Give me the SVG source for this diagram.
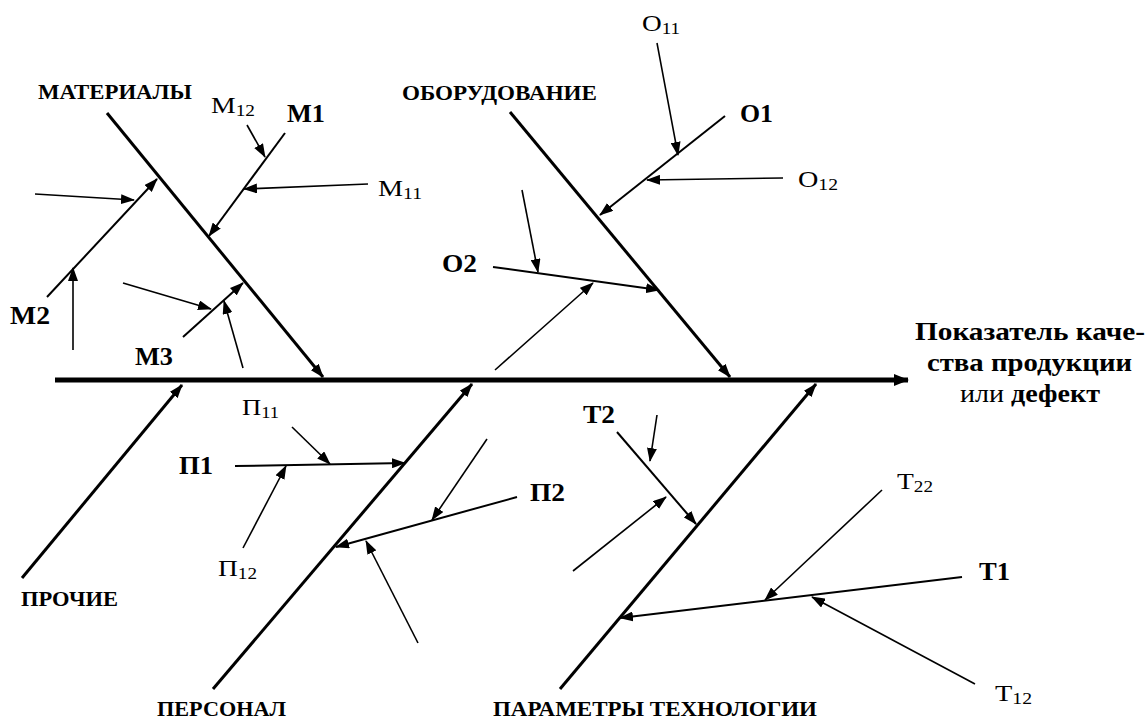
<svg xmlns="http://www.w3.org/2000/svg" width="1146" height="720" viewBox="0 0 1146 720">
<style>
.cat{font-family:"Liberation Serif","Times New Roman",serif;font-weight:bold;font-size:20px;fill:#000}
.lab{font-family:"Liberation Serif","Times New Roman",serif;font-weight:bold;font-size:26px;fill:#000}
.sub{font-family:"Liberation Serif","Times New Roman",serif;font-size:23px;fill:#000}
.sub .s{font-size:16px}
.res{font-family:"Liberation Serif","Times New Roman",serif;font-weight:bold;font-size:26px;fill:#000}
.spine{stroke:#000;stroke-width:5;fill:none}
.bone{stroke:#000;stroke-width:3;fill:none}
.twig{stroke:#000;stroke-width:2;fill:none}
.leaf{stroke:#000;stroke-width:1.6;fill:none}
</style>
<defs>
<marker id="ah" viewBox="0 0 14 10" refX="13" refY="5" markerWidth="14" markerHeight="10" markerUnits="userSpaceOnUse" orient="auto"><path d="M0,0 L14,5 L0,10 z" fill="#000"/></marker>
<marker id="ahBig" viewBox="0 0 15 12" refX="14" refY="6" markerWidth="15" markerHeight="12" markerUnits="userSpaceOnUse" orient="auto"><path d="M0,0 L15,6 L0,12 z" fill="#000"/></marker>
</defs>
<rect width="1146" height="720" fill="#fff"/>
<g id="connectors">
<line class="spine" x1="55" y1="380" x2="908" y2="380" marker-end="url(#ahBig)"/>
<line class="bone" x1="107" y1="113" x2="323" y2="377" marker-end="url(#ah)"/>
<line class="bone" x1="510" y1="112" x2="730" y2="377" marker-end="url(#ah)"/>
<line class="bone" x1="22" y1="578" x2="182" y2="385" marker-end="url(#ah)"/>
<line class="bone" x1="213" y1="689" x2="472" y2="384" marker-end="url(#ah)"/>
<line class="bone" x1="560" y1="689" x2="816" y2="384" marker-end="url(#ah)"/>
<line class="twig" x1="285" y1="133" x2="209" y2="236" marker-end="url(#ah)"/>
<line class="leaf" x1="247" y1="125" x2="265" y2="157" marker-end="url(#ah)"/>
<line class="leaf" x1="368" y1="184" x2="244" y2="189" marker-end="url(#ah)"/>
<line class="twig" x1="47" y1="297" x2="157" y2="179" marker-end="url(#ah)"/>
<line class="leaf" x1="35" y1="194" x2="134" y2="200" marker-end="url(#ah)"/>
<line class="leaf" x1="73" y1="350" x2="73" y2="268" marker-end="url(#ah)"/>
<line class="twig" x1="183" y1="337" x2="243" y2="283" marker-end="url(#ah)"/>
<line class="leaf" x1="123" y1="283" x2="211" y2="309" marker-end="url(#ah)"/>
<line class="leaf" x1="243" y1="368" x2="224" y2="301" marker-end="url(#ah)"/>
<line class="twig" x1="725" y1="116" x2="600" y2="215" marker-end="url(#ah)"/>
<line class="leaf" x1="657" y1="43" x2="678" y2="155" marker-end="url(#ah)"/>
<line class="leaf" x1="783" y1="178" x2="647" y2="180" marker-end="url(#ah)"/>
<line class="twig" x1="493" y1="267" x2="659" y2="290" marker-end="url(#ah)"/>
<line class="leaf" x1="522" y1="190" x2="538" y2="272" marker-end="url(#ah)"/>
<line class="leaf" x1="495" y1="370" x2="593" y2="283" marker-end="url(#ah)"/>
<line class="twig" x1="235" y1="466" x2="405" y2="463" marker-end="url(#ah)"/>
<line class="leaf" x1="292" y1="427" x2="330" y2="464" marker-end="url(#ah)"/>
<line class="leaf" x1="243" y1="548" x2="286" y2="466" marker-end="url(#ah)"/>
<line class="twig" x1="517" y1="497" x2="336" y2="547" marker-end="url(#ah)"/>
<line class="leaf" x1="487" y1="439" x2="432" y2="520" marker-end="url(#ah)"/>
<line class="leaf" x1="418" y1="643" x2="366" y2="541" marker-end="url(#ah)"/>
<line class="twig" x1="617" y1="432" x2="696" y2="524" marker-end="url(#ah)"/>
<line class="leaf" x1="657" y1="415" x2="650" y2="461" marker-end="url(#ah)"/>
<line class="leaf" x1="573" y1="571" x2="666" y2="497" marker-end="url(#ah)"/>
<line class="twig" x1="962" y1="577" x2="620" y2="618" marker-end="url(#ah)"/>
<line class="leaf" x1="882" y1="490" x2="765" y2="600" marker-end="url(#ah)"/>
<line class="leaf" x1="975" y1="684" x2="812" y2="597" marker-end="url(#ah)"/>
</g>
<g id="materials"><text class="cat" x="38" y="99" textLength="154" lengthAdjust="spacingAndGlyphs">МАТЕРИАЛЫ</text></g>
<g id="equipment"><text class="cat" x="402" y="100" textLength="195" lengthAdjust="spacingAndGlyphs">ОБОРУДОВАНИЕ</text></g>
<g id="other"><text class="cat" x="21" y="606" textLength="97" lengthAdjust="spacingAndGlyphs">ПРОЧИЕ</text></g>
<g id="personnel"><text class="cat" x="157" y="716" textLength="129" lengthAdjust="spacingAndGlyphs">ПЕРСОНАЛ</text></g>
<g id="technology"><text class="cat" x="493" y="716" textLength="324" lengthAdjust="spacingAndGlyphs">ПАРАМЕТРЫ ТЕХНОЛОГИИ</text></g>
<g id="result"><text class="res"><tspan x="915" y="340" textLength="230" lengthAdjust="spacingAndGlyphs">Показатель каче-</tspan><tspan x="927" y="371" textLength="205" lengthAdjust="spacingAndGlyphs">ства продукции</tspan><tspan x="960" y="402" textLength="140" lengthAdjust="spacingAndGlyphs"><tspan font-weight="normal">или</tspan> дефект</tspan></text></g>
<g id="M1"><text class="lab" x="287" y="122" textLength="38" lengthAdjust="spacingAndGlyphs">М1</text></g>
<g id="M11"><text class="sub" x="378" y="196" textLength="44" lengthAdjust="spacingAndGlyphs">М<tspan class="s" dy="3">11</tspan></text></g>
<g id="M12"><text class="sub" x="211" y="113" textLength="44" lengthAdjust="spacingAndGlyphs">М<tspan class="s" dy="3">12</tspan></text></g>
<g id="M2"><text class="lab" x="10" y="324" textLength="40" lengthAdjust="spacingAndGlyphs">М2</text></g>
<g id="M3"><text class="lab" x="135" y="365" textLength="38" lengthAdjust="spacingAndGlyphs">М3</text></g>
<g id="O1"><text class="lab" x="740" y="122" textLength="33" lengthAdjust="spacingAndGlyphs">О1</text></g>
<g id="O11"><text class="sub" x="642" y="31" textLength="38" lengthAdjust="spacingAndGlyphs">О<tspan class="s" dy="3">11</tspan></text></g>
<g id="O12"><text class="sub" x="798" y="187" textLength="40" lengthAdjust="spacingAndGlyphs">О<tspan class="s" dy="3">12</tspan></text></g>
<g id="O2"><text class="lab" x="442" y="272" textLength="35" lengthAdjust="spacingAndGlyphs">О2</text></g>
<g id="P1"><text class="lab" x="179" y="474" textLength="34" lengthAdjust="spacingAndGlyphs">П1</text></g>
<g id="P11"><text class="sub" x="242" y="415" textLength="37" lengthAdjust="spacingAndGlyphs">П<tspan class="s" dy="3">11</tspan></text></g>
<g id="P12"><text class="sub" x="218" y="576" textLength="39" lengthAdjust="spacingAndGlyphs">П<tspan class="s" dy="3">12</tspan></text></g>
<g id="P2"><text class="lab" x="530" y="501" textLength="35" lengthAdjust="spacingAndGlyphs">П2</text></g>
<g id="T2"><text class="lab" x="583" y="423" textLength="32" lengthAdjust="spacingAndGlyphs">Т2</text></g>
<g id="T1"><text class="lab" x="979" y="580" textLength="31" lengthAdjust="spacingAndGlyphs">Т1</text></g>
<g id="T22"><text class="sub" x="897" y="489" textLength="36" lengthAdjust="spacingAndGlyphs">Т<tspan class="s" dy="3">22</tspan></text></g>
<g id="T12"><text class="sub" x="995" y="701" textLength="37" lengthAdjust="spacingAndGlyphs">Т<tspan class="s" dy="3">12</tspan></text></g>
</svg>
